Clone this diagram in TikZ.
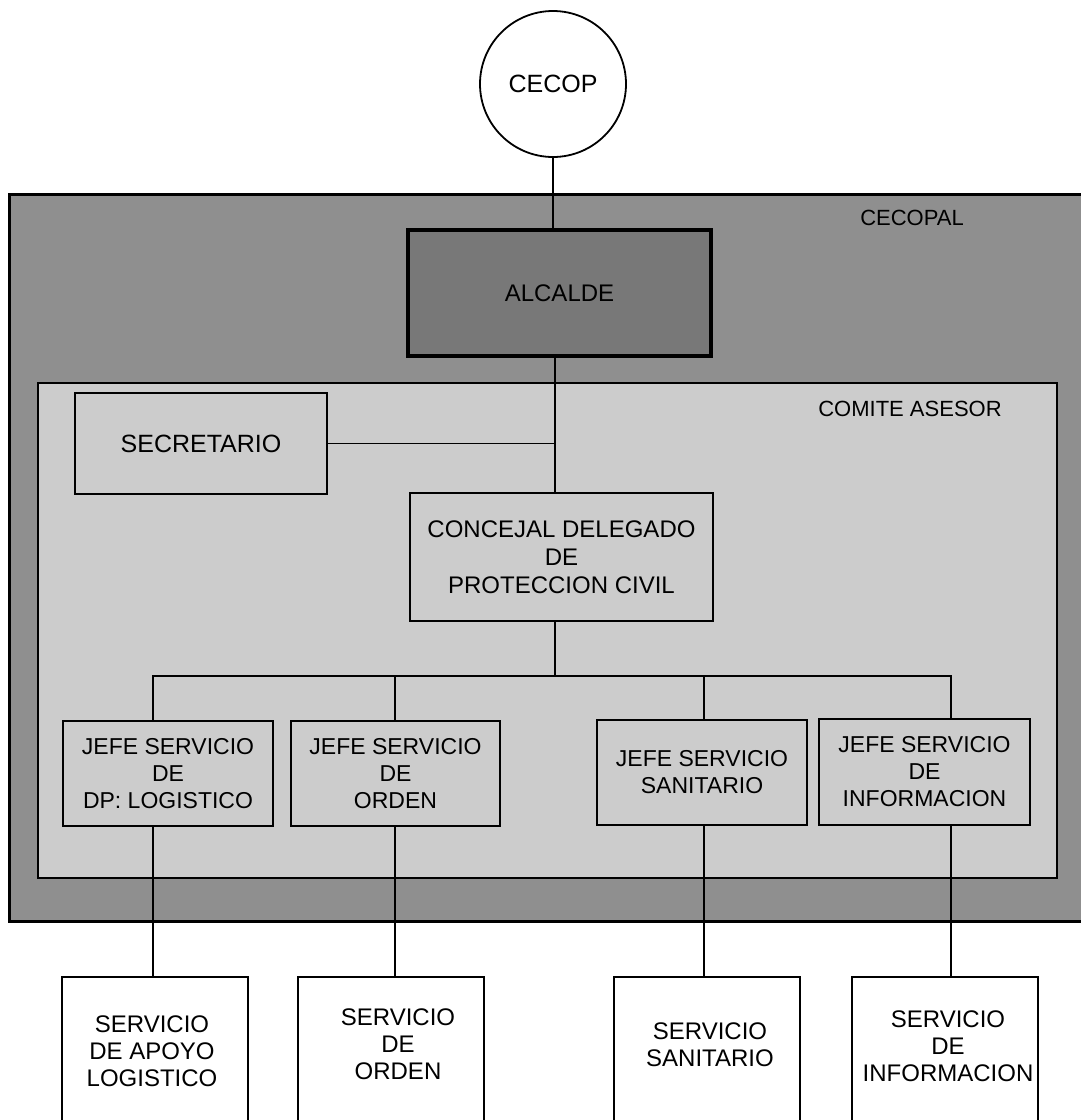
\documentclass[tikz,border=0pt]{standalone}
\usepackage{fontspec}
\setmainfont{Liberation Sans}
\definecolor{outerg}{gray}{0.56}
\definecolor{innerg}{gray}{0.80}
\definecolor{alcg}{gray}{0.47}
\begin{document}
\begin{tikzpicture}[x=1pt,y=-1pt,
  conn/.style={line width=1.6pt},
  frame/.style={draw, inner sep=0pt, anchor=north west},
  inbox/.style={draw, line width=2.2pt, fill=innerg, align=center, inner sep=0pt,
    font=\fontsize{23}{27}\selectfont},
  servbox/.style={draw, line width=2pt, fill=white, inner sep=0pt, anchor=north,
    minimum width=186, minimum height=170},
  servtxt/.style={align=center, inner sep=0pt, font=\fontsize{24}{27}\selectfont},
  lbl/.style={inner sep=0pt, font=\fontsize{22}{26}\selectfont}]
\useasboundingbox (0,0) rectangle (1081,1120);
\fill[white] (0,0) rectangle (1081,1120);

% containers
\node[frame, line width=2.8pt, fill=outerg, minimum width=1090, minimum height=727] (cecopal) at (8,193) {};
\node[frame, line width=2.2pt, fill=innerg, minimum width=1019, minimum height=495] (comite) at (37,382) {};
\node[lbl] (cecopallbl) at (912,218) {CECOPAL};
\node[lbl] (comitelbl) at (910,409) {COMITE ASESOR};

% top circle
\node[draw, circle, line width=1.8pt, fill=white, minimum size=146, inner sep=0pt,
  font=\fontsize{25}{28}\selectfont] (cecop) at (553,84) {CECOP};

% coordinates for spine and bus drops
\coordinate (spine) at (555,676);
\coordinate (d1) at (153,676);
\coordinate (d2) at (395,676);
\coordinate (d3) at (704,676);
\coordinate (d4) at (951,676);

% boxes
\node[draw, line width=3.5pt, fill=alcg, minimum width=303, minimum height=126, inner sep=0pt,
  font=\fontsize{24}{28}\selectfont] (alcalde) at (559.5,293) {ALCALDE};
\node[inbox, minimum width=252, minimum height=101, font=\fontsize{25}{28}\selectfont] (secretario) at (201,443.5) {SECRETARIO};
\node[inbox, minimum width=303, minimum height=128, font=\fontsize{24}{28}\selectfont] (concejal) at (561.5,557) {CONCEJAL DELEGADO\\DE\\PROTECCION CIVIL};
\node[inbox, minimum width=210, minimum height=105] (jefe1) at (168,773.5) {JEFE SERVICIO\\DE\\DP: LOGISTICO};
\node[inbox, minimum width=209, minimum height=105] (jefe2) at (395.5,773.5) {JEFE SERVICIO\\DE\\ORDEN};
\node[inbox, minimum width=210, minimum height=105] (jefe3) at (702,772.5) {JEFE SERVICIO\\SANITARIO};
\node[inbox, minimum width=211, minimum height=106] (jefe4) at (924.5,772) {JEFE SERVICIO\\DE\\INFORMACION};

\node[servbox] (serv1) at (154.5,976) {};
\node[servbox] (serv2) at (390.5,976) {};
\node[servbox] (serv3) at (707,976) {};
\node[servbox] (serv4) at (945,976) {};
\node[servtxt] (t1) at (152,1051) {SERVICIO\\DE APOYO\\LOGISTICO};
\node[servtxt] (t2) at (398,1044) {SERVICIO\\DE\\ORDEN};
\node[servtxt] (t3) at (710,1045) {SERVICIO\\SANITARIO};
\node[servtxt] (t4) at (948,1046) {SERVICIO\\DE\\INFORMACION};

% connectors
\begin{scope}[on background layer/.style={}]
\end{scope}
\draw[conn] (cecop.south) -- (cecop.south |- alcalde.north);
\draw[conn] (spine |- alcalde.south) -- (spine |- concejal.north);
\draw[conn] (secretario.east) -- (spine |- secretario.east);
\draw[conn] (spine |- concejal.south) -- (spine);
\draw[conn] (d1 |- jefe1.north) -- (d1) -- (d4) -- (d4 |- jefe4.north);
\draw[conn] (d2) -- (d2 |- jefe2.north);
\draw[conn] (d3) -- (d3 |- jefe3.north);
\draw[conn] (d1 |- jefe1.south) -- (d1 |- serv1.north);
\draw[conn] (d2 |- jefe2.south) -- (d2 |- serv2.north);
\draw[conn] (d3 |- jefe3.south) -- (d3 |- serv3.north);
\draw[conn] (d4 |- jefe4.south) -- (d4 |- serv4.north);
\end{tikzpicture}
\end{document}
